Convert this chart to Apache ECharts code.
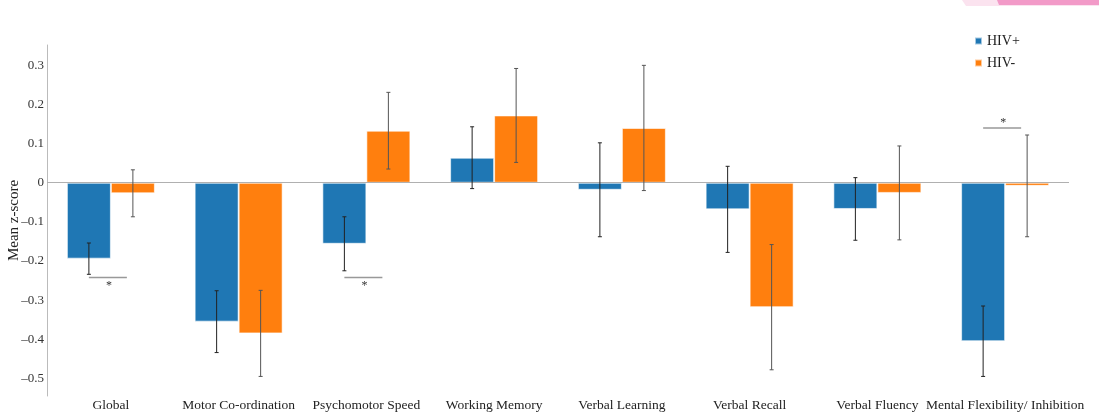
<!DOCTYPE html>
<html lang="en">
<head>
  <meta charset="utf-8">
  <title>Mean z-score by domain</title>
  <script src="https://cdn.jsdelivr.net/npm/echarts@6/dist/echarts.min.js"></script>
  <style>
    html, body { margin: 0; padding: 0; background: #fff; }
    #chart { width: 1099px; height: 413px; }
  </style>
</head>
<body>
  <div id="chart"></div>
  <script type="text/javascript">
// categories and values
var domains = ['Global', 'Motor Co-ordination', 'Psychomotor Speed', 'Working Memory',
  'Verbal Learning', 'Verbal Recall', 'Verbal Fluency', 'Mental Flexibility/ Inhibition'];
var hivPos = [-0.194, -0.355, -0.156, 0.064, -0.018, -0.068, -0.067, -0.405];
var hivNeg = [-0.027, -0.385, 0.133, 0.172, 0.140, -0.318, -0.026, -0.008];
var errPos = [0.040, 0.079, 0.069, 0.079, 0.120, 0.110, 0.080, 0.090];
var errNeg = [0.060, 0.110, 0.098, 0.120, 0.160, 0.160, 0.120, 0.130];
// significance marks: [category index, y value]
var sigMarks = [[0, -0.242], [2, -0.242], [7, 0.140]];

var serif = '"Liberation Serif", "DejaVu Serif", serif';
var BAR = 44;

function errData(vals, errs) {
  var out = [];
  for (var i = 0; i < vals.length; i++) {
    out.push([i, vals[i] - errs[i], vals[i] + errs[i]]);
  }
  return out;
}

function errRender(offset, color) {
  return function (params, api) {
    var lo = api.coord([api.value(0), api.value(1)]);
    var hi = api.coord([api.value(0), api.value(2)]);
    var x = lo[0] + offset;
    var style = { stroke: color, lineWidth: 1 };
    return {
      type: 'group',
      children: [
        { type: 'line', shape: { x1: x, y1: hi[1], x2: x, y2: lo[1] }, style: style },
        { type: 'line', shape: { x1: x - 2, y1: hi[1], x2: x + 2, y2: hi[1] }, style: style },
        { type: 'line', shape: { x1: x - 2, y1: lo[1], x2: x + 2, y2: lo[1] }, style: style }
      ]
    };
  };
}

var chart = echarts.init(document.getElementById('chart'));

var option = {
  backgroundColor: '#fff',
  animation: false,
  grid: { left: 47, right: 30, top: 45, bottom: 17, containLabel: false, outerBoundsMode: 'none' },
  legend: {
    orient: 'vertical',
    left: 969,
    top: 29,
    itemWidth: 7,
    itemHeight: 7,
    itemGap: 8,
    icon: 'rect',
    textStyle: { fontFamily: serif, fontSize: 14, color: '#222' },
    data: ['HIV+', 'HIV-']
  },
  graphic: [
    {
      type: 'polygon',
      shape: { points: [[962, 0], [1099, 0], [1099, 6], [966, 6]] },
      style: { fill: '#fbe3ef' }
    },
    {
      type: 'polygon',
      shape: { points: [[997, 0], [1099, 0], [1099, 5], [999, 5]] },
      style: { fill: '#f29ac8' }
    }
  ],
  xAxis: {
    type: 'category',
    data: domains,
    axisLine: { show: false },
    axisTick: { show: false },
    axisLabel: { margin: 2, fontFamily: serif, fontSize: 13.5, color: '#222', interval: 0 }
  },
  yAxis: {
    type: 'value',
    min: -0.545,
    max: 0.352,
    splitNumber: 9,
    name: 'Mean z-score',
    nameLocation: 'middle',
    nameGap: 25,
    nameMoveOverlap: false,
    nameTextStyle: { fontFamily: serif, fontSize: 15, color: '#222' },
    axisLine: { show: true, lineStyle: { color: '#bbb' } },
    axisTick: { show: false },
    splitLine: { show: false },
    axisLabel: {
      margin: 3,
      showMinLabel: false,
      showMaxLabel: false,
      fontFamily: serif,
      fontSize: 13,
      color: '#333',
      formatter: function (v) {
        if (Math.abs(v * 10 - Math.round(v * 10)) > 1e-6) return '';
        var s = (Math.round(v * 10) / 10).toString();
        return s.replace('-', '\u2013');
      }
    }
  },
  series: [
    {
      name: 'HIV+',
      type: 'bar',
      data: hivPos,
      barWidth: BAR,
      barGap: '0%',
      itemStyle: { color: '#1f77b4', borderColor: 'rgba(255,255,255,0.6)', borderWidth: 1 },
      markLine: {
        silent: true,
        symbol: 'none',
        label: { show: false },
        lineStyle: { color: '#b0b0b0', width: 1, type: 'solid' },
        data: [{ yAxis: 0 }]
      }
    },
    {
      name: 'HIV-',
      type: 'bar',
      data: hivNeg,
      barWidth: BAR,
      itemStyle: { color: '#ff7f0e', borderColor: 'rgba(255,255,255,0.6)', borderWidth: 1 }
    },
    {
      type: 'custom',
      silent: true,
      z: 5,
      data: errData(hivPos, errPos),
      renderItem: errRender(-BAR / 2, '#222')
    },
    {
      type: 'custom',
      silent: true,
      z: 5,
      data: errData(hivNeg, errNeg),
      renderItem: errRender(BAR / 2, '#555')
    },
    {
      type: 'custom',
      silent: true,
      z: 5,
      data: sigMarks,
      renderItem: function (params, api) {
        var p = api.coord([api.value(0), api.value(1)]);
        var below = api.value(1) < 0;
        var cx = p[0] - 3;
        return {
          type: 'group',
          children: [
            { type: 'line', shape: { x1: cx - 19, y1: p[1], x2: cx + 19, y2: p[1] },
              style: { stroke: '#999', lineWidth: 1.5 } },
            { type: 'text',
              style: { text: '*', x: cx + 1, y: below ? p[1] + 8 : p[1] - 5,
                align: 'center', verticalAlign: 'middle',
                font: '12px ' + serif, fill: '#333' } }
          ]
        };
      }
    }
  ]
};

chart.setOption(option);
  </script>
</body>
</html>
